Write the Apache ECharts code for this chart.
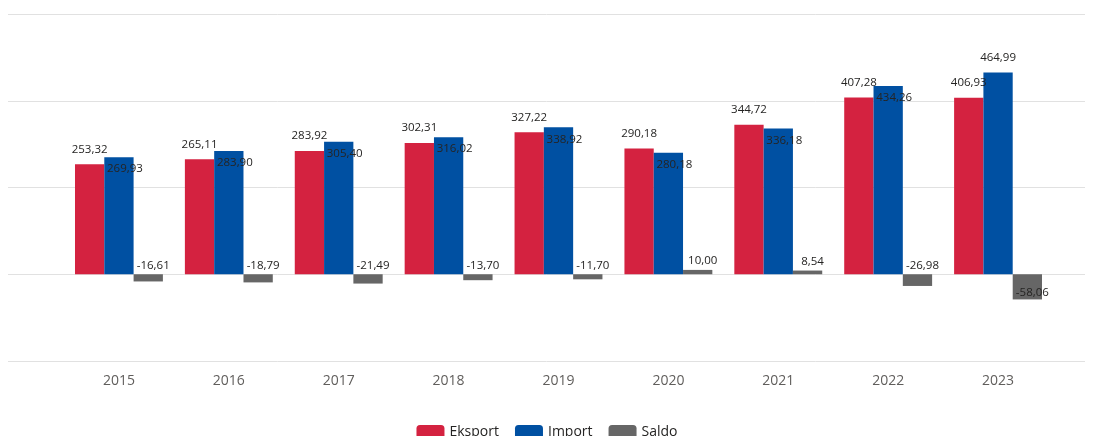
<!DOCTYPE html>
<html><head><meta charset="utf-8">
<script src="https://cdn.jsdelivr.net/npm/echarts@6/dist/echarts.min.js"></script>
<style>html,body{margin:0;padding:0;background:#fff}#c{width:1094px;height:436px}</style>
</head><body><div id="c"></div>
<script>
const years = ['2015','2016','2017','2018','2019','2020','2021','2022','2023'];
const eksport = [253.32, 265.11, 283.92, 302.31, 327.22, 290.18, 344.72, 407.28, 406.93];
const importV = [269.93, 283.90, 305.40, 316.02, 338.92, 280.18, 336.18, 434.26, 464.99];
const saldo = [-16.61, -18.79, -21.49, -13.70, -11.70, 10.00, 8.54, -26.98, -58.06];

const fmt = v => v.toFixed(2).replace('.', ',');
const FONT = '"Open Sans", "Noto Sans", sans-serif';
const lblBase = {show: true, fontSize: 11.5, color: '#252423', fontFamily: FONT, formatter: p => fmt(p.value)};

const importData = importV.map((v, i) => {
  const d = {value: v};
  if (v - eksport[i] < 50) d.label = {position: 'insideTop', distance: 6, offset: [6, 0]};
  return d;
});
const saldoData = saldo.map(v => {
  const d = {value: v};
  if (v < -40) d.label = {position: 'insideTop', distance: 12, offset: [5, 0]};
  return d;
});

const chart = echarts.init(document.getElementById('c'), null, {renderer: 'canvas'});
chart.setOption({
  animation: false,
  grid: [
    {left: 64, right: 41, top: 14, bottom: 75},
    {left: 8, right: 9, top: 14, bottom: 75}
  ],
  legend: {
    bottom: -8, left: 'center', itemWidth: 28, itemHeight: 14, itemGap: 16,
    textStyle: {fontSize: 14, color: '#252423', fontFamily: FONT},
    data: ['Eksport', 'Import', 'Saldo']
  },
  xAxis: [
    {type: 'category', data: years, gridIndex: 0,
     axisLine: {show: false}, axisTick: {show: false},
     axisLabel: {fontSize: 14, color: '#605E5C', margin: 13, fontFamily: FONT}},
    {type: 'value', gridIndex: 1, show: false}
  ],
  yAxis: [
    {type: 'value', gridIndex: 0, min: -200, max: 600, interval: 200,
     axisLabel: {show: false}, axisLine: {show: false}, axisTick: {show: false},
     splitLine: {show: false}},
    {type: 'value', gridIndex: 1, min: -200, max: 600, interval: 200,
     axisLabel: {show: false}, axisLine: {show: false}, axisTick: {show: false},
     splitLine: {show: true, lineStyle: {color: '#E1E1E1', width: 1}}}
  ],
  series: [
    {name: 'Eksport', type: 'bar', data: eksport, barWidth: 29.3, barGap: '0%',
     itemStyle: {color: '#D42240'}, label: Object.assign({}, lblBase, {position: 'top', distance: 9}), z: 3},
    {name: 'Import', type: 'bar', data: importData, barWidth: 29.3, barGap: '0%',
     itemStyle: {color: '#0050A2'}, label: Object.assign({}, lblBase, {position: 'top', distance: 9}), z: 3},
    {name: 'Saldo', type: 'bar', data: saldoData, barWidth: 29.3, barGap: '0%',
     itemStyle: {color: '#666666'}, label: Object.assign({}, lblBase, {position: 'top', distance: 3, offset: [5, 0]}), z: 3}
  ]
});
</script></body></html>
